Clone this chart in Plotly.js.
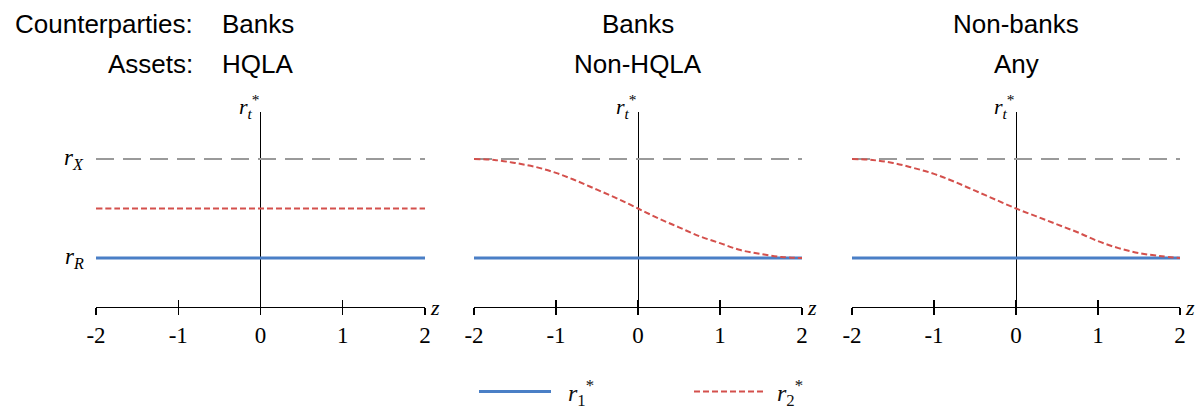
<!DOCTYPE html>
<html>
<head>
<meta charset="utf-8">
<script src="https://cdn.plot.ly/plotly-3.0.1.min.js"></script>
<style>html,body{margin:0;padding:0;background:#fff;}#chart{width:1200px;height:411px;}</style>
</head>
<body>
<div id="chart"></div>
<script>
// ---- data ----
const z = [-2, -1.75, -1.5, -1.25, -1, -0.75, -0.5, -0.25, 0, 0.25, 0.5, 0.75, 1, 1.25, 1.5, 1.75, 2];
const tickVals = [-2, -1, 0, 1, 2];
const tickLabels = ["-2", "-1", "0", "1", "2"];
const rR = 1;   // r_R level
const rX = 2;   // r_X level
const panelCounterparties = ["Banks", "Banks", "Non-banks"];
const panelAssets = ["HQLA", "Non-HQLA", "Any"];
// r1* in every panel equals r_R
const r1_hqla    = [1,1,1,1,1,1,1,1,1,1,1,1,1,1,1,1,1];
const r1_nonhqla = [1,1,1,1,1,1,1,1,1,1,1,1,1,1,1,1,1];
const r1_nonbank = [1,1,1,1,1,1,1,1,1,1,1,1,1,1,1,1,1];
// r2*
const r2_hqla    = [1.5,1.5,1.5,1.5,1.5,1.5,1.5,1.5,1.5,1.5,1.5,1.5,1.5,1.5,1.5,1.5,1.5];
const r2_nonhqla = [2.00,1.99,1.96,1.92,1.86,1.78,1.69,1.60,1.50,1.40,1.31,1.22,1.15,1.08,1.04,1.01,1.00];
const r2_nonbank = [2.00,1.99,1.96,1.91,1.85,1.77,1.68,1.59,1.50,1.42,1.34,1.26,1.17,1.10,1.05,1.02,1.00];
const rXline = [2,2,2,2,2,2,2,2,2,2,2,2,2,2,2,2,2];

const r1Sets = [r1_hqla, r1_nonhqla, r1_nonbank];
const r2Sets = [r2_hqla, r2_nonhqla, r2_nonbank];

// ---- styling ----
const BLUE = "#4a7fc6";
const RED = "#d4504c";
const GRAY = "#9a9a9a";
const SERIF = "Liberation Serif, DejaVu Serif, serif";
const SANS = "Liberation Sans, Arial, sans-serif";

const xDomains = [[96/1200, 425/1200], [474/1200, 802/1200], [852/1200, 1180/1200]];
const yDomain = [(411-307)/411, (411-112)/411];
const yRange = [0.505, 2.475];

const traces = [];
for (let i = 0; i < 3; i++) {
  const xa = i === 0 ? "x" : "x" + (i + 1);
  const ya = i === 0 ? "y" : "y" + (i + 1);
  traces.push({x: z, y: rXline, xaxis: xa, yaxis: ya, mode: "lines",
    line: {color: GRAY, width: 2, dash: "18px,9px"}, showlegend: false, hoverinfo: "skip"});
  traces.push({x: z, y: r1Sets[i], xaxis: xa, yaxis: ya, mode: "lines",
    name: "&nbsp;&nbsp;<i>r</i><sub>1</sub><sup>*</sup>", legendgroup: "r1", showlegend: i === 0,
    line: {color: BLUE, width: 3}});
  traces.push({x: z, y: r2Sets[i], xaxis: xa, yaxis: ya, mode: "lines",
    name: "&nbsp;<i>r</i><sub>2</sub><sup>*</sup>", legendgroup: "r2", showlegend: i === 0,
    line: {color: RED, width: 2, dash: "6px,3px", shape: "spline"}});
  // empty trace so the tick-overlay axis is drawn
  traces.push({x: [], y: [], xaxis: "x" + (i + 4), yaxis: ya, mode: "lines",
    showlegend: false, hoverinfo: "skip"});
}

const layout = {
  width: 1200, height: 411,
  margin: {l: 0, r: 0, t: 0, b: 0, autoexpand: false},
  paper_bgcolor: "#fff", plot_bgcolor: "rgba(0,0,0,0)",
  showlegend: true,
  legend: {orientation: "h", x: 474/1200, xanchor: "left", y: 19/411, yanchor: "middle",
    font: {family: SERIF, size: 24, color: "#111"}, itemwidth: 72, entrywidth: 128,
    bgcolor: "rgba(0,0,0,0)"},
  annotations: [],
};

for (let i = 0; i < 3; i++) {
  const sfx = i === 0 ? "" : String(i + 1);
  const xa = "xaxis" + sfx, ya = "yaxis" + sfx;
  layout[xa] = {
    domain: xDomains[i], anchor: "y" + sfx, range: [-2, 2],
    showgrid: false, zeroline: true, zerolinecolor: "#000", zerolinewidth: 1,
    showline: true, linecolor: "#000", linewidth: 1,
    ticks: "outside", ticklen: 7, tickwidth: 1.3, tickcolor: "#000",
    tickvals: tickVals, ticktext: tickLabels, ticklabelstandoff: 0,
    tickfont: {family: SERIF, size: 23, color: "#000"}, fixedrange: true
  };
  layout[ya] = {
    domain: yDomain, anchor: "x" + sfx, range: yRange, visible: false, fixedrange: true
  };
  // overlay axis to make the ticks cross the axis line
  const ov = "xaxis" + (i + 4);
  layout[ov] = {
    overlaying: "x" + sfx, anchor: "y" + sfx, side: "bottom", range: [-2, 2],
    showgrid: false, zeroline: false, showline: false,
    ticks: "inside", ticklen: 7, tickwidth: 1.3, tickcolor: "#000",
    tickvals: tickVals, showticklabels: false, fixedrange: true
  };
  const xr = "x" + sfx;
  // r_t^* label at top of vertical axis
  layout.annotations.push({xref: xr, yref: "paper", x: 0, y: (411-106)/411, xanchor: "right", yanchor: "middle",
    text: "<i>r</i><sub><i>t</i></sub><sup>*</sup>", showarrow: false, xshift: 1,
    font: {family: SERIF, size: 22, color: "#000"}});
  // z label at right end of axis
  layout.annotations.push({xref: xr, yref: "paper", x: 2, y: (411-307)/411, xanchor: "left", yanchor: "middle",
    text: "<i>z</i>", showarrow: false, xshift: 3,
    font: {family: SERIF, size: 22, color: "#000"}});
  if (i > 0) {
    layout.annotations.push({xref: xr, yref: "paper", x: 0, y: 1 - 24/411, xanchor: "center", yanchor: "middle",
      text: panelCounterparties[i], showarrow: false, font: {family: SANS, size: 26, color: "#000"}});
    layout.annotations.push({xref: xr, yref: "paper", x: 0, y: 1 - 64/411, xanchor: "center", yanchor: "middle",
      text: panelAssets[i], showarrow: false, font: {family: SANS, size: 26, color: "#000"}});
  }
}
// Panel 1 header (table style)
layout.annotations.push({xref: "paper", yref: "paper", x: 195/1200, y: 1 - 24/411, xanchor: "right", yanchor: "middle",
  text: "Counterparties:", showarrow: false, font: {family: SANS, size: 26, color: "#000"}});
layout.annotations.push({xref: "paper", yref: "paper", x: 220/1200, y: 1 - 24/411, xanchor: "left", yanchor: "middle",
  text: panelCounterparties[0], showarrow: false, font: {family: SANS, size: 26, color: "#000"}});
layout.annotations.push({xref: "paper", yref: "paper", x: 195/1200, y: 1 - 64/411, xanchor: "right", yanchor: "middle",
  text: "Assets:", showarrow: false, font: {family: SANS, size: 26, color: "#000"}});
layout.annotations.push({xref: "paper", yref: "paper", x: 220/1200, y: 1 - 64/411, xanchor: "left", yanchor: "middle",
  text: panelAssets[0], showarrow: false, font: {family: SANS, size: 26, color: "#000"}});
// r_X and r_R level labels (left of first panel)
layout.annotations.push({xref: "paper", yref: "y", x: 86/1200, y: rX, xanchor: "right", yanchor: "middle",
  text: "<i>r</i><sub><i>X</i></sub>", showarrow: false, font: {family: SERIF, size: 23, color: "#000"}});
layout.annotations.push({xref: "paper", yref: "y", x: 86/1200, y: rR, xanchor: "right", yanchor: "middle",
  text: "<i>r</i><sub><i>R</i></sub>", showarrow: false, font: {family: SERIF, size: 23, color: "#000"}});

Plotly.newPlot("chart", traces, layout, {staticPlot: true, displayModeBar: false});
</script>
</body>
</html>
